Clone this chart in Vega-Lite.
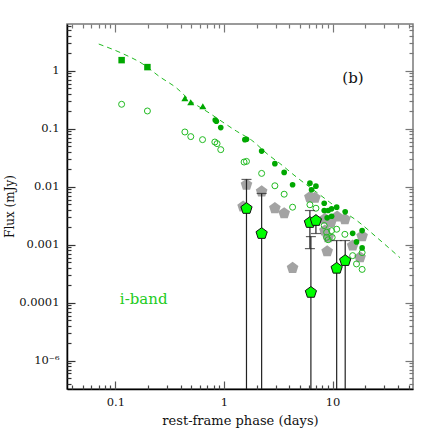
{
  "$schema": "https://vega.github.io/schema/vega-lite/v6.json",
  "width": 346,
  "height": 365,
  "autosize": {"type": "none"},
  "padding": {"left": 67, "top": 24, "right": 23, "bottom": 47},
  "background": "white",
  "config": {
    "font": "DejaVu Serif",
    "view": {"stroke": "#7a7a7a", "strokeWidth": 1.5},
    "axis": {"grid": false, "labelFont": "DejaVu Serif", "titleFont": "DejaVu Serif", "labelColor": "#111", "titleColor": "#111", "labelFontSize": 11.5, "titleFontSize": 13, "titleFontWeight": "normal"}
  },
  "datasets": {
    "model": [
      {"x": 0.0702, "y": 2.9}, {"x": 0.114, "y": 2.02}, {"x": 0.179, "y": 1.31}, {"x": 0.256, "y": 0.79},
      {"x": 0.367, "y": 0.502}, {"x": 0.484, "y": 0.311}, {"x": 0.739, "y": 0.185}, {"x": 1.31, "y": 0.0905},
      {"x": 1.8, "y": 0.0633}, {"x": 2.53, "y": 0.0362}, {"x": 3.26, "y": 0.0253}, {"x": 4.69, "y": 0.0145},
      {"x": 7.17, "y": 0.00796}, {"x": 10.96, "y": 0.00438}, {"x": 16.7, "y": 0.00261}, {"x": 25.6, "y": 0.00133},
      {"x": 41.7, "y": 0.000598}
    ],
    "open": [
      {"x": 0.114, "y": 0.265}, {"x": 0.197, "y": 0.203}, {"x": 0.436, "y": 0.0881}, {"x": 0.494, "y": 0.0733},
      {"x": 0.634, "y": 0.065}, {"x": 0.823, "y": 0.0591}, {"x": 0.863, "y": 0.0555}, {"x": 0.933, "y": 0.0437},
      {"x": 1.53, "y": 0.0267}, {"x": 1.61, "y": 0.0274}, {"x": 2.22, "y": 0.017}, {"x": 2.94, "y": 0.0104},
      {"x": 3.58, "y": 0.00744}, {"x": 4.28, "y": 0.00444}, {"x": 6.18, "y": 0.00489}, {"x": 7.02, "y": 0.00426},
      {"x": 8.37, "y": 0.00214}, {"x": 8.81, "y": 0.00164}, {"x": 9.1, "y": 0.00122}, {"x": 9.79, "y": 0.00175},
      {"x": 10.9, "y": 0.00185}, {"x": 9.91, "y": 0.00134}, {"x": 12.97, "y": 0.00151}, {"x": 15.3, "y": 0.000648},
      {"x": 16.6, "y": 0.000466}, {"x": 18.7, "y": 0.00073}, {"x": 18.7, "y": 0.000375}, {"x": 8.81, "y": 0.00134}
    ],
    "filled": [
      {"x": 0.83, "y": 0.142}, {"x": 0.85, "y": 0.135}, {"x": 0.933, "y": 0.105}, {"x": 1.556, "y": 0.065},
      {"x": 1.61, "y": 0.066}, {"x": 2.22, "y": 0.0413}, {"x": 2.94, "y": 0.025}, {"x": 3.58, "y": 0.01767},
      {"x": 4.28, "y": 0.01083}, {"x": 6.18, "y": 0.01154}, {"x": 7.02, "y": 0.01023}, {"x": 6.4, "y": 0.00887},
      {"x": 8.37, "y": 0.0052}, {"x": 10.9, "y": 0.00444}, {"x": 9.79, "y": 0.00416}, {"x": 8.37, "y": 0.00389},
      {"x": 9.1, "y": 0.00389}, {"x": 13.06, "y": 0.00369}, {"x": 8.91, "y": 0.00291}, {"x": 9.79, "y": 0.0031},
      {"x": 15.3, "y": 0.001574}, {"x": 18.7, "y": 0.001754}, {"x": 16.6, "y": 0.001117}, {"x": 18.7, "y": 0.000881}
    ],
    "squares": [{"x": 0.114, "y": 1.53}, {"x": 0.197, "y": 1.16}],
    "triangles": [{"x": 0.436, "y": 0.337}, {"x": 0.494, "y": 0.287}, {"x": 0.638, "y": 0.245}],
    "gray": [
      {"x": 1.61, "y": 0.01083}, {"x": 2.22, "y": 0.0083}, {"x": 1.5, "y": 0.00456}, {"x": 2.94, "y": 0.00426},
      {"x": 3.58, "y": 0.00349}, {"x": 6.18, "y": 0.0066}, {"x": 6.87, "y": 0.00645}, {"x": 8.49, "y": 0.00279},
      {"x": 9.64, "y": 0.00244}, {"x": 11.0, "y": 0.00306}, {"x": 12.97, "y": 0.00275}, {"x": 8.49, "y": 0.00175},
      {"x": 9.1, "y": 0.00134}, {"x": 18.7, "y": 0.0014}, {"x": 15.3, "y": 0.000965}, {"x": 8.91, "y": 0.000769},
      {"x": 4.28, "y": 0.000397}, {"x": 17.9, "y": 0.000605}
    ],
    "lime": [
      {"x": 1.61, "y": 0.00421, "lo": 1e-7, "hi": 0.01337},
      {"x": 2.22, "y": 0.001556, "lo": 1e-7, "hi": 0.00766},
      {"x": 6.18, "y": 0.00241, "lo": 0.000857, "hi": 0.00389},
      {"x": 7.02, "y": 0.00261, "lo": 0.00156, "hi": 0.0033},
      {"x": 6.31, "y": 0.00015, "lo": 1e-7, "hi": 0.00138},
      {"x": 10.9, "y": 0.000391, "lo": 1e-7, "hi": 0.00118},
      {"x": 13.06, "y": 0.000531, "lo": 1e-7, "hi": 0.00118}
    ],
    "caps": [
      {"x": 1.61, "y": 0.01337}, {"x": 2.22, "y": 0.00766}, {"x": 6.18, "y": 0.00389}, {"x": 6.18, "y": 0.000857},
      {"x": 7.02, "y": 0.00156}, {"x": 6.31, "y": 0.00138}, {"x": 10.9, "y": 0.00118}, {"x": 13.06, "y": 0.00118}
    ],
    "labels": [
      {"x": 15.4, "y": 0.748, "text": "(b)", "kind": "panel"},
      {"x": 0.182, "y": 0.000118, "text": "i-band", "kind": "band"}
    ]
  },
  "layer": [
    {
      "data": {"name": "model"},
      "mark": {"type": "line", "color": "#22bb22", "strokeWidth": 1, "strokeDash": [5, 4], "interpolate": "monotone"},
      "encoding": {
        "x": {"field": "x", "type": "quantitative", "scale": {"type": "log", "domain": [0.0358, 55], "nice": false},
          "axis": {"orient": "bottom", "values": [0.1, 1, 10], "format": "~g", "ticks": false, "domain": true, "domainColor": "#000", "domainWidth": 1.5, "labelPadding": 7, "title": "rest-frame phase (days)", "titlePadding": 7}},
        "y": {"field": "y", "type": "quantitative", "scale": {"type": "log", "domain": [3.24e-6, 6.43], "nice": false},
          "axis": {"orient": "left", "values": [0.00001, 0.0001, 0.001, 0.01, 0.1, 1], "labelExpr": "datum.value < 0.00005 ? '10⁻⁶' : format(datum.value, '~g')", "ticks": false, "domain": true, "domainColor": "#000", "domainWidth": 1.5, "labelPadding": 8, "title": "Flux (mJy)", "titleFontSize": 12, "titleX": -58, "titleY": 182, "titleAngle": -90, "titleAlign": "center", "titleBaseline": "middle"}}
      }
    },
    {
      "data": {"name": "gray"},
      "mark": {"type": "point", "shape": "M0,-1L0.951,-0.309L0.588,0.809L-0.588,0.809L-0.951,-0.309Z", "filled": true, "color": "#a3a3a3", "opacity": 1, "size": 150},
      "encoding": {
        "x": {"field": "x", "type": "quantitative", "scale": {"type": "log", "domain": [0.0358, 55], "nice": false},
          "axis": {"orient": "top", "values": [0.1, 1, 10], "labels": false, "domain": false, "tickSize": -8, "tickColor": "#777", "tickWidth": 1.2, "title": null}},
        "y": {"field": "y", "type": "quantitative", "scale": {"type": "log", "domain": [3.24e-6, 6.43], "nice": false},
          "axis": {"orient": "right", "values": [0.00001, 0.0001, 0.001, 0.01, 0.1, 1], "labels": false, "domain": false, "tickSize": -8, "tickColor": "#777", "tickWidth": 1.2, "title": null}}
      }
    },
    {
      "data": {"name": "open"},
      "mark": {"type": "point", "shape": "circle", "filled": false, "color": "#22bb22", "strokeWidth": 1, "opacity": 1, "size": 36},
      "encoding": {
        "x": {"field": "x", "type": "quantitative", "scale": {"type": "log", "domain": [0.0358, 55], "nice": false},
          "axis": {"orient": "bottom", "values": [0.1, 1, 10], "labels": false, "domain": false, "tickSize": -8, "tickColor": "#555", "tickWidth": 1.2, "title": null}},
        "y": {"field": "y", "type": "quantitative", "scale": {"type": "log", "domain": [3.24e-6, 6.43], "nice": false},
          "axis": {"orient": "left", "values": [0.00001, 0.0001, 0.001, 0.01, 0.1, 1], "labels": false, "domain": false, "tickSize": -8, "tickColor": "#333", "tickWidth": 1.2, "title": null}}
      }
    },
    {
      "data": {"name": "filled"},
      "mark": {"type": "point", "shape": "circle", "filled": true, "color": "#00a800", "opacity": 1, "size": 32},
      "encoding": {
        "x": {"field": "x", "type": "quantitative", "scale": {"type": "log", "domain": [0.0358, 55], "nice": false},
          "axis": {"orient": "top", "values": [0.04, 0.05, 0.06, 0.07, 0.08, 0.09, 0.2, 0.3, 0.4, 0.5, 0.6, 0.7, 0.8, 0.9, 2, 3, 4, 5, 6, 7, 8, 9, 20, 30, 40, 50], "labels": false, "domain": false, "tickSize": -4, "tickColor": "#777", "tickWidth": 1.2, "title": null}},
        "y": {"field": "y", "type": "quantitative", "scale": {"type": "log", "domain": [3.24e-6, 6.43], "nice": false},
          "axis": {"orient": "right", "values": [4e-6, 5e-6, 6e-6, 7e-6, 8e-6, 9e-6, 2e-5, 3e-5, 4e-5, 5e-5, 6e-5, 7e-5, 8e-5, 9e-5, 0.0002, 0.0003, 0.0004, 0.0005, 0.0006, 0.0007, 0.0008, 0.0009, 0.002, 0.003, 0.004, 0.005, 0.006, 0.007, 0.008, 0.009, 0.02, 0.03, 0.04, 0.05, 0.06, 0.07, 0.08, 0.09, 0.2, 0.3, 0.4, 0.5, 0.6, 0.7, 0.8, 0.9, 2, 3, 4, 5, 6], "labels": false, "domain": false, "tickSize": -4, "tickColor": "#777", "tickWidth": 1.2, "title": null}}
      }
    },
    {
      "data": {"name": "squares"},
      "mark": {"type": "point", "shape": "square", "filled": true, "color": "#00a800", "opacity": 1, "size": 42},
      "encoding": {
        "x": {"field": "x", "type": "quantitative", "scale": {"type": "log", "domain": [0.0358, 55], "nice": false},
          "axis": {"orient": "bottom", "values": [0.04, 0.05, 0.06, 0.07, 0.08, 0.09, 0.2, 0.3, 0.4, 0.5, 0.6, 0.7, 0.8, 0.9, 2, 3, 4, 5, 6, 7, 8, 9, 20, 30, 40, 50], "labels": false, "domain": false, "tickSize": -4, "tickColor": "#444", "tickWidth": 1.2, "title": null}},
        "y": {"field": "y", "type": "quantitative", "scale": {"type": "log", "domain": [3.24e-6, 6.43], "nice": false},
          "axis": {"orient": "left", "values": [4e-6, 5e-6, 6e-6, 7e-6, 8e-6, 9e-6, 2e-5, 3e-5, 4e-5, 5e-5, 6e-5, 7e-5, 8e-5, 9e-5, 0.0002, 0.0003, 0.0004, 0.0005, 0.0006, 0.0007, 0.0008, 0.0009, 0.002, 0.003, 0.004, 0.005, 0.006, 0.007, 0.008, 0.009, 0.02, 0.03, 0.04, 0.05, 0.06, 0.07, 0.08, 0.09, 0.2, 0.3, 0.4, 0.5, 0.6, 0.7, 0.8, 0.9, 2, 3, 4, 5, 6], "labels": false, "domain": false, "tickSize": -4, "tickColor": "#333", "tickWidth": 1.2, "title": null}}
      }
    },
    {
      "data": {"name": "triangles"},
      "mark": {"type": "point", "shape": "triangle-up", "filled": true, "color": "#00a800", "opacity": 1, "size": 50},
      "encoding": {
        "x": {"field": "x", "type": "quantitative", "scale": {"type": "log", "domain": [0.0358, 55], "nice": false}, "axis": null},
        "y": {"field": "y", "type": "quantitative", "scale": {"type": "log", "domain": [3.24e-6, 6.43], "nice": false}, "axis": null}
      }
    },
    {
      "data": {"name": "lime"},
      "mark": {"type": "rule", "color": "#222", "strokeWidth": 1.2, "clip": true},
      "encoding": {
        "x": {"field": "x", "type": "quantitative", "scale": {"type": "log", "domain": [0.0358, 55], "nice": false}, "axis": null},
        "y": {"field": "lo", "type": "quantitative", "scale": {"type": "log", "domain": [3.24e-6, 6.43], "nice": false}, "axis": null},
        "y2": {"field": "hi"}
      }
    },
    {
      "data": {"name": "caps"},
      "mark": {"type": "tick", "orient": "horizontal", "color": "#222", "thickness": 1.2, "size": 10},
      "encoding": {
        "x": {"field": "x", "type": "quantitative", "scale": {"type": "log", "domain": [0.0358, 55], "nice": false}, "axis": null},
        "y": {"field": "y", "type": "quantitative", "scale": {"type": "log", "domain": [3.24e-6, 6.43], "nice": false}, "axis": null}
      }
    },
    {
      "data": {"name": "lime"},
      "mark": {"type": "point", "shape": "M0,-1L0.951,-0.309L0.588,0.809L-0.588,0.809L-0.951,-0.309Z", "filled": true, "fill": "#00ff00", "stroke": "#111", "strokeWidth": 1, "opacity": 1, "size": 140},
      "encoding": {
        "x": {"field": "x", "type": "quantitative", "scale": {"type": "log", "domain": [0.0358, 55], "nice": false}, "axis": null},
        "y": {"field": "y", "type": "quantitative", "scale": {"type": "log", "domain": [3.24e-6, 6.43], "nice": false}, "axis": null}
      }
    },
    {
      "data": {"name": "labels"},
      "mark": {"type": "text", "font": "DejaVu Serif", "fontSize": 15, "align": "center", "baseline": "middle"},
      "encoding": {
        "x": {"field": "x", "type": "quantitative", "scale": {"type": "log", "domain": [0.0358, 55], "nice": false}, "axis": null},
        "y": {"field": "y", "type": "quantitative", "scale": {"type": "log", "domain": [3.24e-6, 6.43], "nice": false}, "axis": null},
        "text": {"field": "text"},
        "color": {"field": "kind", "type": "nominal", "scale": {"domain": ["panel", "band"], "range": ["#111111", "#22cc22"]}, "legend": null}
      }
    }
  ]
}
